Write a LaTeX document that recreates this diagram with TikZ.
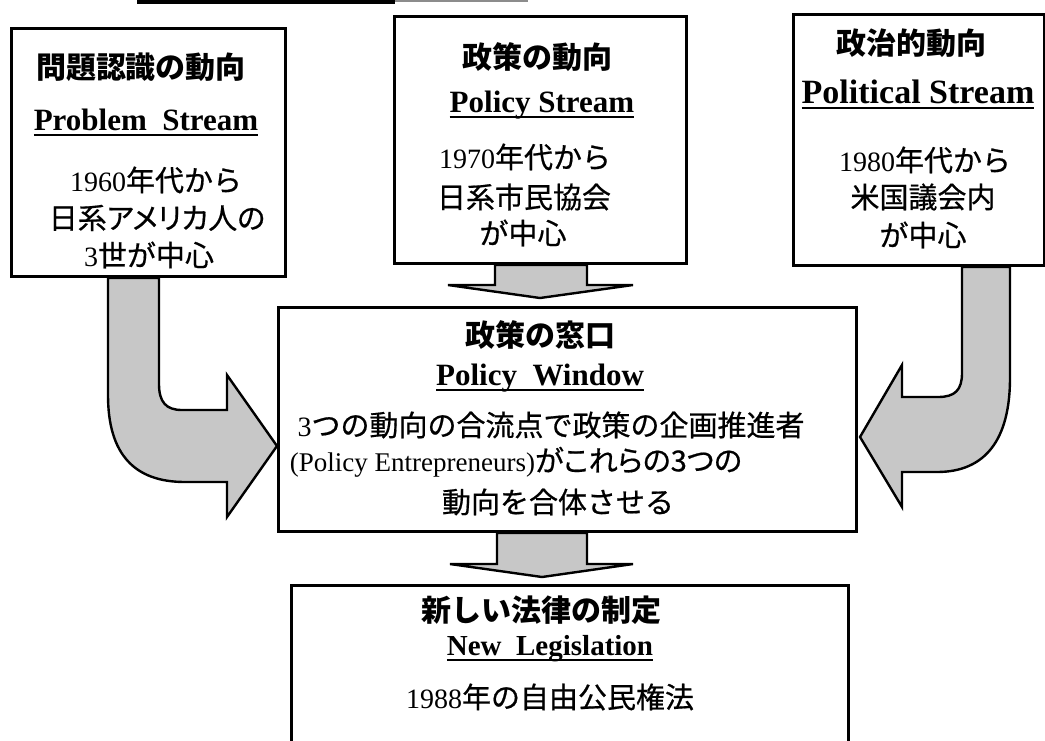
\documentclass[tikz,border=0pt]{standalone}
\usepackage{fontspec}
\setmainfont{Liberation Serif}
\newfontfamily\jp{Noto Sans CJK JP}
\newfontfamily\jpm{Noto Sans CJK JP}[FakeBold=0.6]
\newfontfamily\jpp{Noto Sans CJK JP}[FakeBold=0.6,RawFeature=+palt]
\usetikzlibrary{calc}
\pgfdeclarelayer{bg}
\pgfsetlayers{bg,main}
\newcommand\ulx[1]{\setbox0=\hbox{#1}\rlap{\rule[-6pt]{\wd0}{2pt}}\box0}
\newcommand\lt[1]{{\rmfamily\fontsize{28}{32}\selectfont #1}}
\begin{document}
\begin{tikzpicture}[x=1pt,y=-1pt,
  box/.style={draw, line width=3pt, rectangle, inner sep=0pt, anchor=north west},
  fat/.style={draw, line width=2.4pt, fill=black!22, line join=miter},
  jhead/.style={font=\jp\bfseries\fontsize{30}{36}\selectfont, inner sep=0pt},
  ehead/.style={font=\rmfamily\bfseries\fontsize{31}{36}\selectfont, inner sep=0pt, anchor=base},
  body/.style={font=\jpm\fontsize{29}{34}\selectfont, inner sep=0pt},
]
\useasboundingbox (0,0) rectangle (1045,740);

% boxes
\node[box, minimum width=274pt, minimum height=248pt] (prob) at (10,27) {};
\node[box, minimum width=292pt, minimum height=247pt] (pol) at (393,15) {};
\node[box, minimum width=251pt, minimum height=251pt] (polit) at (792,13) {};
\node[box, minimum width=578pt, minimum height=224pt] (win) at (277,306) {};
\node[box, minimum width=557pt, minimum height=200pt] (leg) at (290,584) {};

% line of the box above (cut off)
\draw[line width=4pt] (137,2) -- (395,2);
\draw[line width=2pt, black!45] (395,1) -- (528,1);

% texts: problem stream
\node[jhead] (probT) at (141,67) {問題認識の動向};
\node[ehead] (probE) at (146,130) {\ulx{Problem~~Stream}};
\node[body] (probA) at (156,180) {\lt{1960}年代から};
\node[body, font=\jpp\fontsize{29}{34}\selectfont] (probB) at (157,218) {日系アメリカ人の};
\node[body] (probC) at (149,255) {\lt{3}世が中心};

% policy stream
\node[jhead] (polT) at (537,57) {政策の動向};
\node[ehead] (polE) at (542,112) {\ulx{Policy Stream}};
\node[body] (polA) at (525,157) {\lt{1970}年代から};
\node[body] (polB) at (524,197) {日系市民協会};
\node[body] (polC) at (523,233) {が中心};

% political stream
\node[jhead] (politT) at (911,43) {政治的動向};
\node[ehead, font=\rmfamily\bfseries\fontsize{34}{38}\selectfont] (politE) at (918,103) {\ulx{Political Stream}};
\node[body] (politA) at (925,160) {\lt{1980}年代から};
\node[body] (politB) at (923,197) {米国議会内};
\node[body] (politC) at (923,235) {が中心};

% policy window
\node[jhead] (winT) at (540,335) {政策の窓口};
\node[ehead] (winE) at (540,385) {\ulx{Policy~~Window}};
\node[body] (winA) at (551,425) {\lt{3}つの動向の合流点で政策の企画推進者};
\node[body, font=\jpp\fontsize{29}{34}\selectfont] (winB) at (516,462) {{\rmfamily\fontsize{27}{32}\selectfont (Policy Entrepreneurs)}がこれらの3つの};
\node[body] (winC) at (558,502) {動向を合体させる};

% new legislation
\node[jhead] (legT) at (541,610) {新しい法律の制定};
\node[ehead, font=\rmfamily\bfseries\fontsize{29}{34}\selectfont] (legE) at (550,655) {\ulx{New~~Legislation}};
\node[body] (legA) at (550,697) {\lt{1988}年の自由公民権法};

% fat arrows
\coordinate (L0) at ($(prob.south west)+(98,0)$);
\coordinate (L1) at ($(prob.south west)+(149,0)$);
\coordinate (Ltip) at ($(win.north west)+(0,140)$);
\coordinate (R0) at ($(polit.south west)+(170,0)$);
\coordinate (R1) at ($(polit.south west)+(218,0)$);
\coordinate (Rtip) at ($(win.north east)+(2,131)$);
\coordinate (T0) at ($(pol.south west)+(102,0)$);
\coordinate (T1) at ($(pol.south west)+(194,0)$);
\coordinate (Ttip) at ($(win.north west)+(263,-8)$);
\coordinate (B0) at ($(win.south west)+(220,0)$);
\coordinate (B1) at ($(win.south west)+(310,0)$);
\coordinate (Btip) at ($(leg.north west)+(252,-7)$);

\begin{pgfonlayer}{bg}
\draw[fat] (L0) -- (108,395) .. controls (108,455) and (135,482) .. (185,482)
  -- (227,482) -- (227,517) -- (Ltip) -- (227,375) -- (227,410) -- (182,410)
  .. controls (166,410) and (159,402) .. (159,384) -- (L1) -- cycle;
\draw[fat] (R1) -- (1010,378) .. controls (1010,440) and (985,472) .. (937,472)
  -- (902,472) -- (902,507) -- (Rtip) -- (902,365) -- (902,397) -- (938,397)
  .. controls (955,397) and (962,390) .. (962,373) -- (R0) -- cycle;
\draw[fat] (T0) -- (495,285) -- (448,285) -- (Ttip) -- (633,285) -- (587,285) -- (T1) -- cycle;
\draw[fat] (B0) -- (497,564) -- (450,564) -- (Btip) -- (633,564) -- (587,564) -- (B1) -- cycle;
\end{pgfonlayer}
\end{tikzpicture}
\end{document}
